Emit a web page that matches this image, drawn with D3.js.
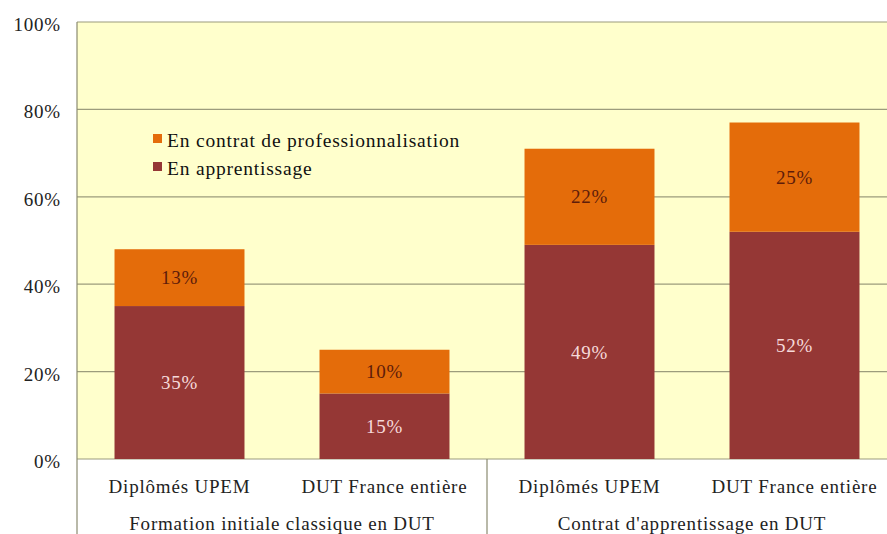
<!DOCTYPE html>
<html>
<head>
<meta charset="utf-8">
<script src="https://cdn.jsdelivr.net/npm/d3@7"></script>
<style>
  body { margin: 0; background: #fff; }
</style>
</head>
<body>
<svg id="chart"></svg>
<script>
var categories = ['Diplômés UPEM', 'DUT France entière', 'Diplômés UPEM', 'DUT France entière'];
var groups = ['Formation initiale classique en DUT', "Contrat d'apprentissage en DUT"];
var apprentissage = [35, 15, 49, 52];
var professionnalisation = [13, 10, 22, 25];
var seriesNames = ['En contrat de professionnalisation', 'En apprentissage'];
var yTicks = [0, 20, 40, 60, 80, 100];

var WIDTH = 887, HEIGHT = 534;
var MARGIN = {left: 77, top: 22, bottom: 75};
var COLORS = {appr: '#953735', prof: '#e46c0a'};
var FONT = "'Liberation Serif', 'Times New Roman', 'DejaVu Serif', serif";
var FS = 19, LS = '0.8px';

var svg = d3.select('#chart').attr('width', WIDTH).attr('height', HEIGHT)
    .attr('font-family', FONT).attr('letter-spacing', LS);
var plotBottom = HEIGHT - MARGIN.bottom;

var x = d3.scaleBand().domain(d3.range(categories.length))
    .range([MARGIN.left, MARGIN.left + 4 * 205]).paddingInner(0.366).paddingOuter(0.183);
var y = d3.scaleLinear().domain([0, 100]).range([plotBottom, MARGIN.top]);

// plot background
svg.append('rect')
    .attr('x', MARGIN.left).attr('y', MARGIN.top)
    .attr('width', WIDTH - MARGIN.left + 20).attr('height', plotBottom - MARGIN.top)
    .attr('fill', '#ffffcc');

// gridlines
svg.append('g').selectAll('line').data(yTicks).join('line')
    .attr('x1', MARGIN.left).attr('x2', WIDTH)
    .attr('y1', function(d) { return y(d); }).attr('y2', function(d) { return y(d); })
    .attr('stroke', '#9c9c7c').attr('stroke-width', 1.2);

// y labels
var yAxis = d3.axisLeft(y).tickValues(yTicks).tickSize(0).tickPadding(16)
    .tickFormat(function(d) { return d + '%'; });
svg.append('g').attr('transform', 'translate(' + MARGIN.left + ',0)').call(yAxis)
    .attr('font-family', FONT).attr('font-size', FS)
    .call(function(g) { g.select('.domain').remove(); })
    .selectAll('text').attr('fill', '#222').attr('dy', '0.45em');

// left border + separators
svg.append('line').attr('x1', MARGIN.left).attr('x2', MARGIN.left)
    .attr('y1', MARGIN.top).attr('y2', HEIGHT).attr('stroke', '#8a8a70').attr('stroke-width', 1.2);
var sepX = (x(1) + x.bandwidth() + x(2)) / 2;
svg.append('line').attr('x1', sepX).attr('x2', sepX)
    .attr('y1', plotBottom).attr('y2', HEIGHT).attr('stroke', '#8a8a70').attr('stroke-width', 1.2);

// bars
var bars = svg.append('g');
categories.forEach(function(c, i) {
    var a = apprentissage[i], p = professionnalisation[i];
    bars.append('rect').attr('x', x(i)).attr('width', x.bandwidth())
        .attr('y', y(a)).attr('height', y(0) - y(a)).attr('fill', COLORS.appr);
    bars.append('rect').attr('x', x(i)).attr('width', x.bandwidth())
        .attr('y', y(a + p)).attr('height', y(a) - y(a + p)).attr('fill', COLORS.prof);
    var cx = x(i) + x.bandwidth() / 2;
    bars.append('text').attr('x', cx).attr('y', y(a / 2)).attr('dy', '0.35em')
        .attr('text-anchor', 'middle').attr('font-size', FS).attr('fill', '#f6dada')
        .text(a + '%');
    bars.append('text').attr('x', cx).attr('y', y(a + p / 2)).attr('dy', '0.35em')
        .attr('text-anchor', 'middle').attr('font-size', FS).attr('fill', '#5e1c0a')
        .text(p + '%');
});

// category labels
svg.append('g').selectAll('text').data(categories).join('text')
    .attr('x', function(d, i) { return x(i) + x.bandwidth() / 2; })
    .attr('y', plotBottom + 34)
    .attr('text-anchor', 'middle').attr('font-size', FS).attr('fill', '#222')
    .text(function(d) { return d; });

// group labels
svg.append('g').selectAll('text').data(groups).join('text')
    .attr('x', function(d, i) { return (x(2 * i) + x(2 * i + 1) + x.bandwidth()) / 2; })
    .attr('y', plotBottom + 71)
    .attr('text-anchor', 'middle').attr('font-size', FS).attr('fill', '#222')
    .text(function(d) { return d; });

// legend
var legend = svg.append('g').attr('transform', 'translate(153,134)');
var legendColors = [COLORS.prof, COLORS.appr];
seriesNames.forEach(function(name, i) {
    legend.append('rect').attr('x', 0).attr('y', i * 28).attr('width', 9).attr('height', 9)
        .attr('fill', legendColors[i]);
    legend.append('text').attr('x', 14).attr('y', i * 28 + 13)
        .attr('font-size', 19.5).attr('fill', '#111').text(name);
});
</script>
</body>
</html>
